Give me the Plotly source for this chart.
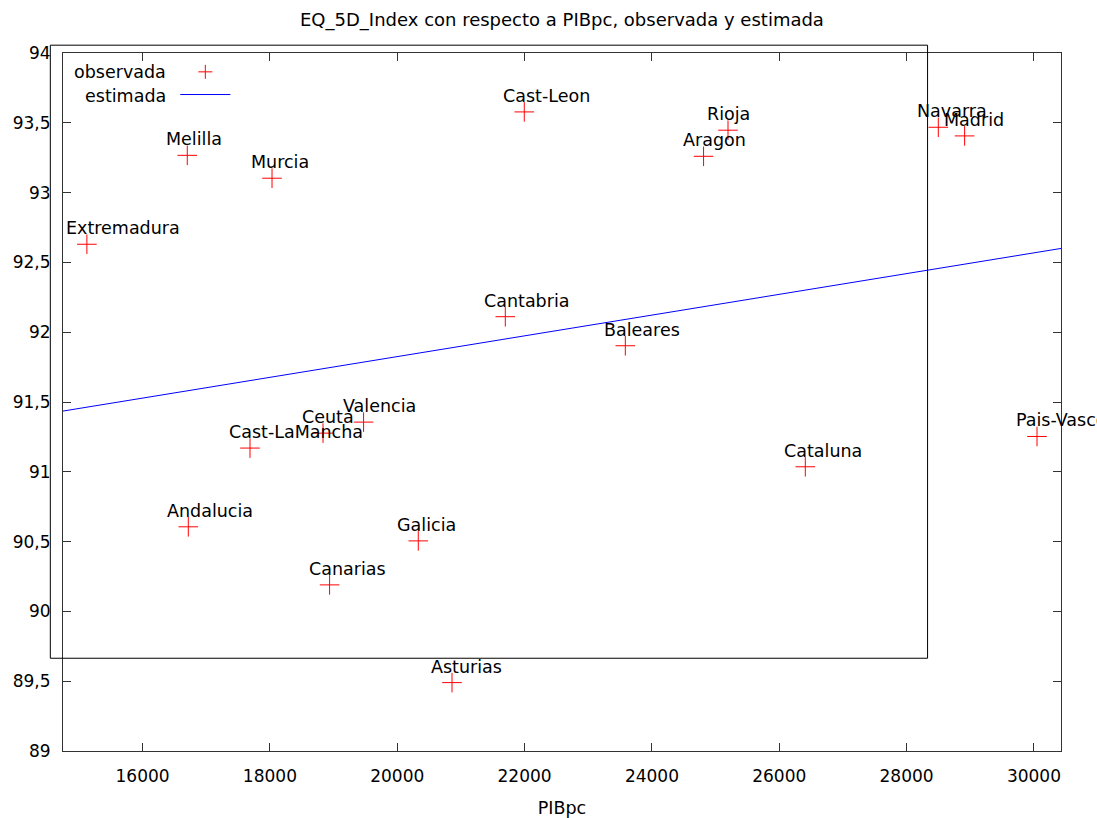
import plotly.graph_objects as go

regions = ["Extremadura", "Melilla", "Murcia", "Cast-Leon", "Rioja", "Aragon", "Navarra",
           "Madrid", "Cantabria", "Baleares", "Cast-LaMancha", "Ceuta", "Valencia",
           "Pais-Vasco", "Cataluna", "Andalucia", "Galicia", "Canarias", "Asturias"]
pibpc = [15125, 16702, 18033, 21995, 25195, 24811, 28498,
         28911, 21697, 23582, 17687, 18834, 19471,
         30048, 26409, 16718, 20330, 18937, 20860]
eq5d = [92.63, 93.267, 93.103, 93.578, 93.447, 93.26, 93.468,
        93.406, 92.111, 91.903, 91.17, 91.277, 91.356,
        91.253, 91.036, 90.606, 90.505, 90.19, 89.49]

est_x = [14750, 30425]
est_y = [91.435, 92.60]

x_range = [14750, 30425]
y_range = [89, 94]

FONT = "DejaVu Sans"
FS = 17.5

fig = go.Figure()
fig.add_trace(go.Scatter(x=est_x, y=est_y, mode="lines",
                         line=dict(color="#0000ff", width=1), showlegend=False,
                         cliponaxis=True))
fig.add_trace(go.Scatter(x=pibpc, y=eq5d, mode="markers",
                         marker=dict(symbol="cross-thin", size=14,
                                     line=dict(color="#ff0000", width=1)),
                         showlegend=False, cliponaxis=False))

annotations = []
for name, xv, yv in zip(regions, pibpc, eq5d):
    annotations.append(dict(x=xv, y=yv, xref="x", yref="y", text=name, showarrow=False,
                            xanchor="left", yanchor="bottom", xshift=-23, yshift=4,
                            font=dict(family=FONT, size=FS, color="black")))

# gnuplot-style key
annotations.append(dict(x=0.1055, y=0.973, xref="paper", yref="paper", text="observada",
                        showarrow=False, xanchor="right", yanchor="middle",
                        font=dict(family=FONT, size=FS, color="black")))
annotations.append(dict(x=0.1055, y=0.939, xref="paper", yref="paper", text="estimada",
                        showarrow=False, xanchor="right", yanchor="middle",
                        font=dict(family=FONT, size=FS, color="black")))
# title
annotations.append(dict(x=0.5, y=1.0, xref="paper", yref="paper",
                        text="EQ_5D_Index con respecto a PIBpc, observada y estimada",
                        showarrow=False, xanchor="center", yanchor="middle", yshift=33,
                        font=dict(family=FONT, size=18, color="black")))

shapes = [
    # key box
    dict(type="rect", xref="paper", yref="paper", x0=-0.0127, x1=0.8663, y0=0.1329, y1=1.0112,
         line=dict(color="black", width=1), fillcolor="rgba(0,0,0,0)", layer="above"),
    # key sample line
    dict(type="line", xref="paper", yref="paper", x0=0.1175, x1=0.1677, y0=0.9405, y1=0.9405,
         line=dict(color="#0000ff", width=1)),
    # key plus sign
    dict(type="line", xref="paper", yref="paper", xsizemode="pixel", ysizemode="pixel",
         xanchor=0.1426, yanchor=0.973, x0=-7, x1=7, y0=0, y1=0,
         line=dict(color="#ff0000", width=1)),
    dict(type="line", xref="paper", yref="paper", xsizemode="pixel", ysizemode="pixel",
         xanchor=0.1426, yanchor=0.973, x0=0, x1=0, y0=-7, y1=7,
         line=dict(color="#ff0000", width=1)),
]

fig.update_layout(
    width=1097, height=818,
    margin=dict(l=63, r=36, t=53, b=67),
    paper_bgcolor="white", plot_bgcolor="white",
    separators=",.",
    font=dict(family=FONT, size=FS, color="black"),
    annotations=annotations, shapes=shapes,
    showlegend=False,
)
fig.update_xaxes(range=x_range, dtick=2000, tick0=0, tickformat="d", automargin=False,
                 showgrid=False, zeroline=False, showline=True, mirror="ticks",
                 linecolor="#333333", linewidth=1, ticks="inside", ticklen=8,
                 tickcolor="#333333", ticklabelstandoff=10,
                 tickfont=dict(family=FONT, size=17),
                 title=dict(text="PIBpc", font=dict(family=FONT, size=FS), standoff=16))
fig.update_yaxes(range=y_range, dtick=0.5, tick0=0, automargin=False,
                 showgrid=False, zeroline=False, showline=True, mirror="ticks",
                 linecolor="#333333", linewidth=1, ticks="inside", ticklen=8,
                 tickcolor="#333333", ticklabelstandoff=8,
                 tickfont=dict(family=FONT, size=17))

fig.write_html("out.html", config={"displayModeBar": False},
               post_script="document.body.style.margin='0';"
                           "document.documentElement.style.overflow='hidden';")
